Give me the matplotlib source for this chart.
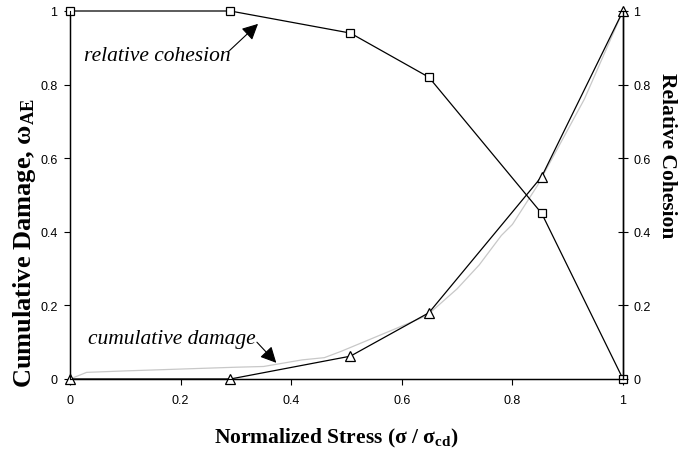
import matplotlib
matplotlib.use('Agg')
import matplotlib.pyplot as plt
import numpy as np

plt.rcParams['font.family'] = ['Liberation Sans', 'DejaVu Sans']
plt.rcParams['mathtext.fontset'] = 'custom'
plt.rcParams['mathtext.rm'] = 'Liberation Serif'
plt.rcParams['mathtext.it'] = 'Liberation Serif:italic'
plt.rcParams['mathtext.bf'] = 'Liberation Serif:bold'

# data
stress = [0, 0.29, 0.507, 0.649, 0.853, 1.0]
cohesion = [1, 1, 0.94, 0.82, 0.45, 0]
damage = [0, 0, 0.062, 0.18, 0.55, 1]

# measured (grey) damage curve
ae_stress = [0, 0.03, 0.1, 0.2, 0.3, 0.35, 0.42, 0.46, 0.49, 0.57, 0.645,
             0.70, 0.74, 0.78, 0.80, 0.845, 0.93, 1.0]
ae_damage = [0, 0.018, 0.022, 0.027, 0.032, 0.034, 0.052, 0.058, 0.075, 0.125,
             0.172, 0.245, 0.31, 0.39, 0.42, 0.525, 0.76, 1.0]

ticks = [0, 0.2, 0.4, 0.6, 0.8, 1]
tick_labels = ['0', '0.2', '0.4', '0.6', '0.8', '1']

serif = 'Liberation Serif'
fs_lab = 15.5
fs_tick = 9

fig = plt.figure(figsize=(6.87, 4.52), dpi=100)
ax = fig.add_axes([70/687, 1-380/452, 553/687, 368/452])
ax.set_xlim(0, 1)
ax.set_ylim(0, 1)

ax.plot(ae_stress, ae_damage, color='#c8c8c8', lw=0.9, zorder=2)
ax.plot(stress, damage, 'k-', lw=0.9, marker='^', ms=6.5, mfc='white', mec='k',
        mew=0.9, clip_on=False, zorder=4)
ax.plot(stress, cohesion, 'k-', lw=0.9, marker='s', ms=6, mfc='white', mec='k',
        mew=0.9, clip_on=False, zorder=4)

# spines / ticks
ax.spines['top'].set_visible(False)
for s in ['left', 'bottom', 'right']:
    ax.spines[s].set_linewidth(1.0)
ax.set_xticks(ticks)
ax.set_xticklabels(tick_labels)
ax.set_yticks(ticks)
ax.set_yticklabels(tick_labels)
ax.tick_params(axis='both', direction='out', length=4, width=0.8,
               labelsize=fs_tick, pad=5)
ax.tick_params(axis='x', pad=7)

ax2 = ax.twinx()
ax2.set_ylim(0, 1)
ax2.set_yticks(ticks)
ax2.set_yticklabels(tick_labels)
ax2.tick_params(axis='y', direction='inout', length=7, width=0.8,
                labelsize=fs_tick, pad=4)
ax2.spines['top'].set_visible(False)
ax2.spines['right'].set_linewidth(1.0)

# axis titles
fig.text(336/687, 1-438/452, r'Normalized Stress (σ / σ$_{\mathbf{cd}}$)',
         family=serif, weight='bold', fontsize=fs_lab, ha='center', va='center')
fig.text(25/687, 1-243/452, r'Cumulative Damage, ω$_{\mathbf{AE}}$',
         family=serif, weight='bold', fontsize=19, ha='center', va='center',
         rotation=90)
fig.text(667/687, 1-156/452, 'Relative Cohesion',
         family=serif, weight='bold', fontsize=fs_lab, ha='center', va='center',
         rotation=270)

# curve annotations
ax.text(0.157, 0.878, 'relative cohesion', family=serif, style='italic',
        fontsize=fs_lab, ha='center', va='center')
ax.annotate('', xy=(0.34, 0.965), xytext=(0.286, 0.889),
            arrowprops=dict(arrowstyle='-|>,head_length=0.6,head_width=0.3',
                            color='k', lw=0.8, mutation_scale=16,
                            shrinkA=0, shrinkB=0))
ax.text(0.185, 0.109, 'cumulative damage', family=serif, style='italic',
        fontsize=fs_lab, ha='center', va='center')
ax.annotate('', xy=(0.373, 0.044), xytext=(0.338, 0.10),
            arrowprops=dict(arrowstyle='-|>,head_length=0.6,head_width=0.3',
                            color='k', lw=0.8, mutation_scale=16,
                            shrinkA=0, shrinkB=0))

fig.savefig('out.png', dpi=100)
